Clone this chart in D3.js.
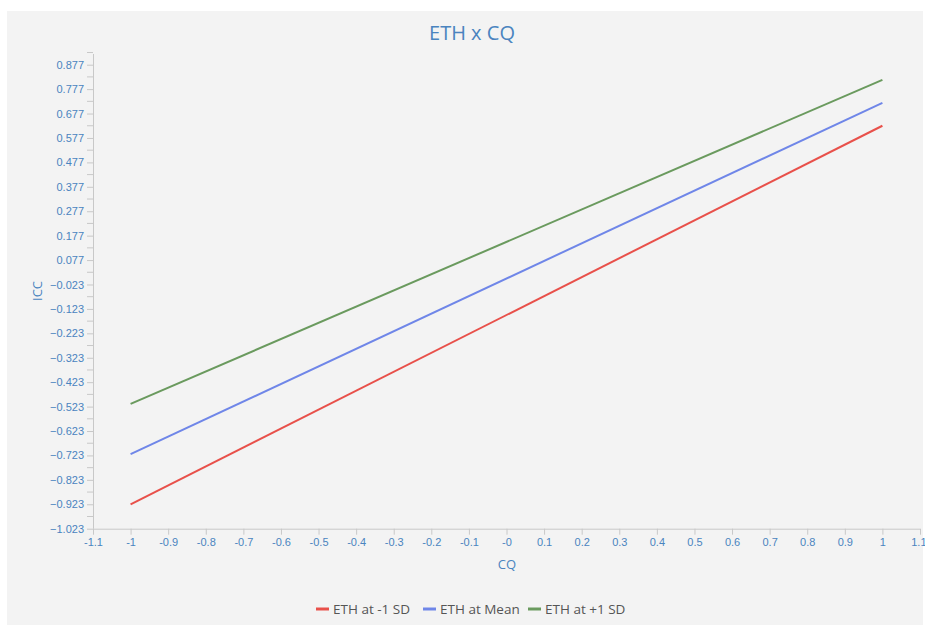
<!DOCTYPE html>
<html><head><meta charset="utf-8">
<script src="https://cdn.jsdelivr.net/npm/d3@7"></script>
<style>body{margin:0;background:#fff;}svg{display:block;font-family:"Open Sans","Noto Sans",sans-serif;}</style>
</head><body>
<svg id="c" width="925" height="627"></svg>
<script>
const xValues = [-1, 1];
const seriesNames = ["ETH at -1 SD", "ETH at Mean", "ETH at +1 SD"];
const seriesColors = ["#e8504a", "#6f86e8", "#6a9a5e"];
const lowSD = [-0.923, 0.627];
const meanSD = [-0.718, 0.721];
const highSD = [-0.512, 0.815];
const yTicks = [-1.023,-0.923,-0.823,-0.723,-0.623,-0.523,-0.423,-0.323,-0.223,-0.123,-0.023,0.077,0.177,0.277,0.377,0.477,0.577,0.677,0.777,0.877];
const xTicks = [-1.1,-1,-0.9,-0.8,-0.7,-0.6,-0.5,-0.4,-0.3,-0.2,-0.1,0,0.1,0.2,0.3,0.4,0.5,0.6,0.7,0.8,0.9,1,1.1];
const xTickLabels = ["-1.1","-1","-0.9","-0.8","-0.7","-0.6","-0.5","-0.4","-0.3","-0.2","-0.1","-0","0.1","0.2","0.3","0.4","0.5","0.6","0.7","0.8","0.9","1","1.1"];

const svg = d3.select("#c");
svg.append("rect").attr("x",7).attr("y",11).attr("width",916).attr("height",614).attr("fill","#f3f3f3");

const x = d3.scaleLinear().domain([-1.1,1.1]).range([93,920]);
const y = d3.scaleLinear().domain([-1.023,0.877]).range([528.7,64.7]);
const textCol = "#4a84bf";
const axisCol = "#c8c8c8";

// x axis
const gx = svg.append("g").attr("transform","translate(0,528.7)")
  .call(d3.axisBottom(x).tickValues(xTicks).tickSize(6).tickPadding(4).tickFormat((d,i)=>xTickLabels[i]));
gx.select(".domain").attr("stroke",axisCol).attr("d","M93,0.5H920");
gx.selectAll(".tick line").attr("stroke",axisCol);
gx.selectAll("text").attr("fill",textCol).attr("font-size",11);
gx.selectAll(".tick").filter(d=>d===1.1).select("text").attr("text-anchor","end").attr("x",6);

// y axis
const gy = svg.append("g").attr("transform","translate(93,0)")
  .call(d3.axisLeft(y).tickValues(yTicks).tickSize(6).tickPadding(3).tickFormat(d3.format(".3f")));
gy.select(".domain").attr("stroke",axisCol).attr("d","M0.5,54V528.7");
gy.selectAll(".tick line").attr("stroke",axisCol);
gy.selectAll("text").attr("fill",textCol).attr("font-size",11);
// minor ticks
const minor = yTicks.map(v=>v+0.05);
gy.selectAll(".minor").data(minor).enter().append("line")
  .attr("x1",-6).attr("x2",0).attr("y1",d=>y(d)).attr("y2",d=>y(d)).attr("stroke",axisCol);

// lines
const series = [lowSD, meanSD, highSD];
const line = d3.line().x((d,i)=>x(xValues[i])).y(d=>y(d));
series.forEach((s,k)=>{
  svg.append("path").datum(s).attr("d",line).attr("fill","none")
    .attr("stroke",seriesColors[k]).attr("stroke-width",2);
});

// titles
svg.append("text").attr("x",472).attr("y",40).attr("text-anchor","middle")
  .attr("fill","#4a84bf").attr("font-size",20).text("ETH x CQ");
svg.append("text").attr("x",507).attr("y",569).attr("text-anchor","middle")
  .attr("fill",textCol).attr("font-size",13).text("CQ");
svg.append("text").attr("transform","translate(42,291) rotate(-90)").attr("text-anchor","middle")
  .attr("fill",textCol).attr("font-size",13).text("ICC");

// legend
const legX = [316, 423, 528];
const lg = svg.append("g");
seriesNames.forEach((n,k)=>{
  lg.append("line").attr("x1",legX[k]).attr("x2",legX[k]+13).attr("y1",609).attr("y2",609)
    .attr("stroke",seriesColors[k]).attr("stroke-width",3);
  lg.append("text").attr("x",legX[k]+17).attr("y",613.5).attr("fill","#555").attr("font-size",13.5).text(n);
});
</script>
</body></html>
